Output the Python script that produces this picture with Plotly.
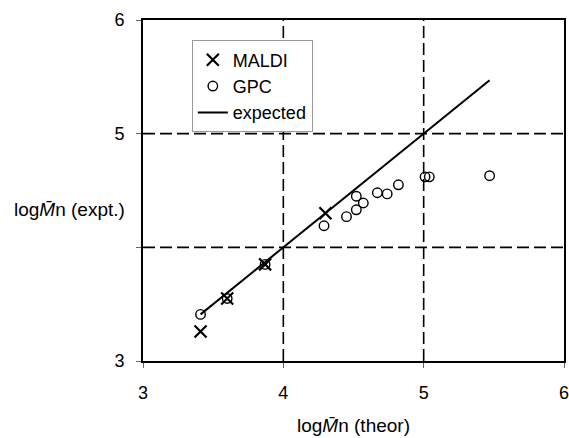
import plotly.graph_objects as go

maldi_x = [3.41, 3.60, 3.87, 4.30]
maldi_y = [3.26, 3.55, 3.85, 4.30]

gpc_x = [3.41, 3.60, 3.87, 4.29, 4.45, 4.52, 4.52, 4.57, 4.67, 4.74, 4.82, 5.01, 5.04, 5.47]
gpc_y = [3.41, 3.55, 3.85, 4.19, 4.27, 4.33, 4.45, 4.39, 4.48, 4.47, 4.55, 4.62, 4.62, 4.63]

line_x = [3.41, 5.47]
line_y = [3.41, 5.47]

ticks = [3, 4, 5, 6]
xtick_text = ["3", "4", "5", "6"]
ytick_text = ["3", "", "5", "6"]
grid_vals = [4, 5]

FONT = "Liberation Sans, Arial, sans-serif"

fig = go.Figure()
fig.add_trace(go.Scatter(x=maldi_x, y=maldi_y, mode="markers", name="MALDI",
                         marker=dict(symbol="x-thin-open", size=12, color="black",
                                     line=dict(width=2.2, color="black"))))
fig.add_trace(go.Scatter(x=gpc_x, y=gpc_y, mode="markers", name="GPC",
                         marker=dict(symbol="circle-open", size=9.5, color="black",
                                     line=dict(width=1.4, color="black"))))
fig.add_trace(go.Scatter(x=line_x, y=line_y, mode="lines", name="expected",
                         line=dict(color="black", width=2)))

for v in grid_vals:
    fig.add_shape(type="line", x0=v, x1=v, y0=3, y1=6, xref="x", yref="y",
                  line=dict(color="black", width=1.6, dash="12px,5px"), layer="below")
    fig.add_shape(type="line", x0=3, x1=6, y0=v, y1=v, xref="x", yref="y",
                  line=dict(color="black", width=1.6, dash="12px,5px"), layer="below")

fig.update_xaxes(range=[3, 6], tickvals=ticks, ticktext=xtick_text, showgrid=False,
                 zeroline=False, showline=True, linecolor="black", linewidth=2, mirror=True,
                 ticks="outside", ticklen=5, tickcolor="#666666", ticklabelstandoff=9,
                 automargin=False, ticklabeloverflow="allow",
                 tickfont=dict(size=18, family=FONT, color="black"))
fig.update_yaxes(range=[3, 6], tickvals=ticks, ticktext=ytick_text, showgrid=False,
                 zeroline=False, showline=True, linecolor="black", linewidth=2, mirror=True,
                 ticks="outside", ticklen=5, tickcolor="#666666", ticklabelstandoff=8,
                 automargin=False, ticklabeloverflow="allow",
                 tickfont=dict(size=18, family=FONT, color="black"))

fig.add_annotation(text="log<i>M̄</i>n (expt.)", xref="paper", yref="paper",
                   x=-0.038, y=0.443, xanchor="right", yanchor="middle", showarrow=False,
                   font=dict(size=19, family=FONT, color="black"))
fig.add_annotation(text="log<i>M̄</i>n (theor)", xref="paper", yref="paper",
                   x=0.5, y=0, yshift=-64, xanchor="center", yanchor="middle", showarrow=False,
                   font=dict(size=19, family=FONT, color="black"))

fig.update_layout(
    width=569, height=438,
    margin=dict(l=143, r=5, t=20, b=77),
    paper_bgcolor="white", plot_bgcolor="white",
    font=dict(family=FONT, color="black"),
    showlegend=True,
    legend=dict(x=0.116, y=0.94, xanchor="left", yanchor="top",
                bgcolor="white", bordercolor="#999999", borderwidth=1,
                font=dict(size=18, family=FONT, color="black"),
                itemwidth=30, tracegroupgap=0),
)

fig.write_html("out.html", config={"displayModeBar": False},
               post_script="document.body.style.margin='0';document.body.style.overflow='hidden';")
